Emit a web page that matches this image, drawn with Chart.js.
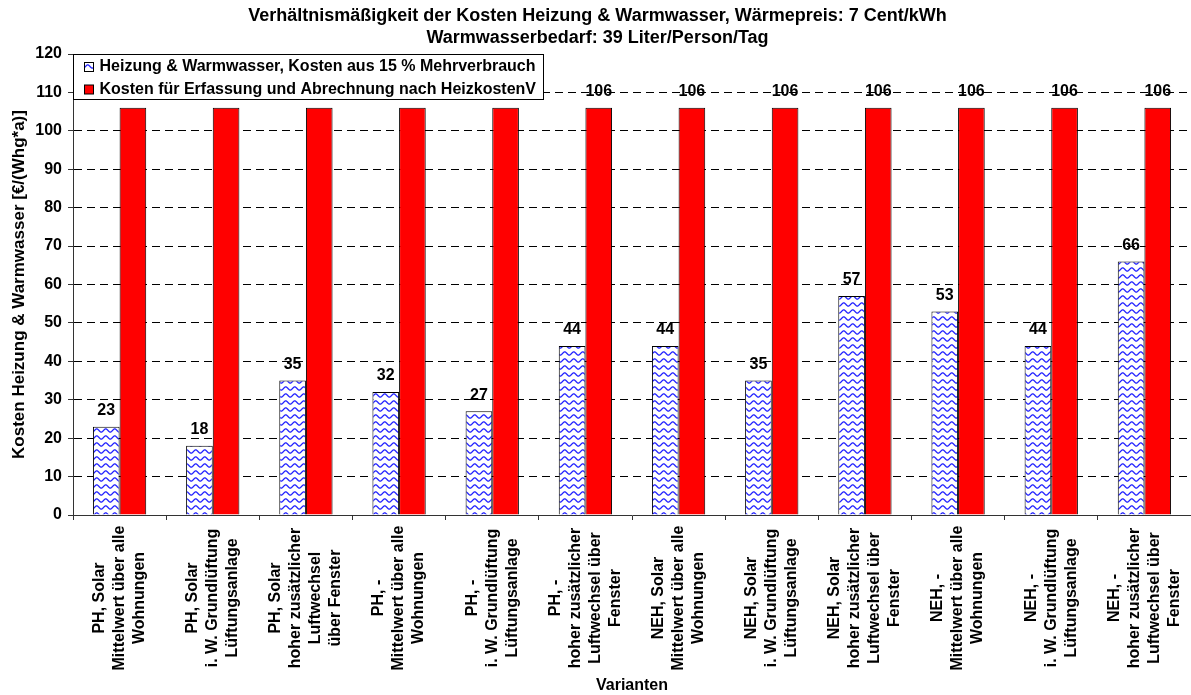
<!DOCTYPE html>
<html lang="de">
<head>
<meta charset="utf-8">
<title>Verhältnismäßigkeit der Kosten Heizung & Warmwasser</title>
<script src="https://cdn.jsdelivr.net/npm/chart.js@4.4.1/dist/chart.umd.min.js"></script>
<style>
  html, body { margin: 0; padding: 0; background: #fff; }
  #wrap { width: 1191px; height: 695px; }
</style>
</head>
<body>
<div id="wrap"><canvas id="chart" width="1191" height="695"></canvas></div>
<script>
// Varianten (each entry is one multi-line category label)
const categories = [
  ["PH, Solar", "Mittelwert über alle", "Wohnungen"],
  ["PH, Solar", "i. W. Grundlüftung", "Lüftungsanlage"],
  ["PH, Solar", "hoher zusätzlicher", "Luftwechsel", "über Fenster"],
  ["PH, -", "Mittelwert über alle", "Wohnungen"],
  ["PH, -", "i. W. Grundlüftung", "Lüftungsanlage"],
  ["PH, -", "hoher zusätzlicher", "Luftwechsel über", "Fenster"],
  ["NEH, Solar", "Mittelwert über alle", "Wohnungen"],
  ["NEH, Solar", "i. W. Grundlüftung", "Lüftungsanlage"],
  ["NEH, Solar", "hoher zusätzlicher", "Luftwechsel über", "Fenster"],
  ["NEH, -", "Mittelwert über alle", "Wohnungen"],
  ["NEH, -", "i. W. Grundlüftung", "Lüftungsanlage"],
  ["NEH, -", "hoher zusätzlicher", "Luftwechsel über", "Fenster"]
];

// Kosten in €/(Whg*a)
const mehrverbrauchKosten = [23, 18, 35, 32, 27, 44, 44, 35, 57, 53, 44, 66];
const erfassungKosten = [106, 106, 106, 106, 106, 106, 106, 106, 106, 106, 106, 106];

const seriesNames = [
  "Heizung & Warmwasser, Kosten aus 15 % Mehrverbrauch",
  "Kosten für Erfassung und Abrechnung nach HeizkostenV"
];

const titleLines = [
  "Verhältnismäßigkeit der Kosten Heizung & Warmwasser, Wärmepreis: 7 Cent/kWh",
  "Warmwasserbedarf: 39 Liter/Person/Tag"
];

const yTicks = { min: 0, max: 120, step: 10 };

const FONT = '"Liberation Sans", Arial, Helvetica, sans-serif';
const FS = 16;

const canvas = document.getElementById('chart');
const ctx = canvas.getContext('2d');

// white tile with a blue wavy line, repeated over the bar
function wavePattern() {
  const w = 9, h = 7;
  const c = document.createElement('canvas');
  c.width = w; c.height = h;
  const g = c.getContext('2d');
  g.fillStyle = '#ffffff';
  g.fillRect(0, 0, w, h);
  g.strokeStyle = '#1f1fff';
  g.lineWidth = 1.2;
  g.beginPath();
  for (let x = -1; x <= w + 1; x += 0.5) {
    const y = 3.5 + 1.6 * Math.sin(2 * Math.PI * x / w);
    if (x === -1) g.moveTo(x, y); else g.lineTo(x, y);
  }
  g.stroke();
  return ctx.createPattern(c, 'repeat');
}
const blueWave = wavePattern();

// value labels above each bar
const valueLabels = {
  id: 'valueLabels',
  afterDatasetsDraw(chart) {
    const c = chart.ctx;
    c.save();
    c.font = 'bold ' + FS + 'px ' + FONT;
    c.fillStyle = '#000';
    c.textAlign = 'center';
    c.textBaseline = 'middle';
    chart.data.datasets.forEach((ds, i) => {
      chart.getDatasetMeta(i).data.forEach((bar, j) => {
        c.fillText(String(ds.data[j]), bar.x, bar.y - 16);
      });
    });
    c.restore();
  }
};

// vertical, centred multi-line category labels
const categoryLabels = {
  id: 'categoryLabels',
  afterDraw(chart) {
    const c = chart.ctx;
    const xs = chart.scales.x;
    const lineGap = 20;
    const centerY = 598;
    c.save();
    c.font = 'bold ' + FS + 'px ' + FONT;
    c.fillStyle = '#000';
    c.textAlign = 'center';
    c.textBaseline = 'middle';
    chart.data.labels.forEach((lines, i) => {
      const x = xs.getPixelForValue(i);
      lines.forEach((line, k) => {
        const off = (k - (lines.length - 1) / 2) * lineGap;
        c.save();
        c.translate(x + off, centerY);
        c.rotate(-Math.PI / 2);
        c.fillText(line, 0, 0);
        c.restore();
      });
    });
    c.restore();
  }
};

// boxed legend in the upper left corner of the plot area
const boxLegend = {
  id: 'boxLegend',
  afterDraw(chart) {
    const c = chart.ctx;
    const area = chart.chartArea;
    c.save();
    c.font = 'bold ' + FS + 'px ' + FONT;
    const texts = chart.data.datasets.map(d => d.label);
    const textW = Math.max(...texts.map(t => c.measureText(t).width));
    const left = Math.round(area.left) + 0.5;
    const top = Math.round(area.top) + 0.5;
    const textX = left + 26;
    const width = Math.round(textX - left + textW + 8);
    const height = 45;
    c.fillStyle = '#fff';
    c.fillRect(left, top, width, height);
    c.strokeStyle = '#000';
    c.lineWidth = 1;
    c.strokeRect(left, top, width, height);
    c.textBaseline = 'middle';
    c.textAlign = 'left';
    chart.data.datasets.forEach((ds, i) => {
      const cy = top + 12.5 + i * 22.5;
      c.fillStyle = ds.backgroundColor;
      c.fillRect(left + 11, cy - 4.5, 9, 9);
      c.strokeStyle = '#000';
      c.strokeRect(left + 11, cy - 4.5, 9, 9);
      c.fillStyle = '#000';
      c.fillText(ds.label, textX, cy);
    });
    c.restore();
  }
};

new Chart(ctx, {
  type: 'bar',
  data: {
    labels: categories,
    datasets: [
      {
        label: seriesNames[0],
        data: mehrverbrauchKosten,
        backgroundColor: blueWave,
        borderColor: '#000',
        borderWidth: 1
      },
      {
        label: seriesNames[1],
        data: erfassungKosten,
        backgroundColor: '#ff0000',
        borderColor: '#000',
        borderWidth: 1
      }
    ]
  },
  options: {
    responsive: false,
    animation: false,
    devicePixelRatio: 1,
    layout: { padding: { left: 0, right: -4, top: 0, bottom: 0 } },
    datasets: {
      bar: { categoryPercentage: 0.572, barPercentage: 1.0 }
    },
    plugins: {
      legend: { display: false },
      tooltip: { enabled: false },
      title: {
        display: true,
        text: titleLines,
        color: '#000',
        font: { family: FONT, size: 18, weight: 'bold', lineHeight: 1.2 },
        padding: { top: 5.2, bottom: 5.6 }
      }
    },
    scales: {
      x: {
        grid: {
          offset: true,
          drawOnChartArea: false,
          tickLength: 5,
          tickColor: '#333'
        },
        border: { color: '#333', width: 1 },
        ticks: { display: false },
        title: {
          display: true,
          text: 'Varianten',
          color: '#000',
          font: { family: FONT, size: FS, weight: 'bold' },
          padding: { top: 0, bottom: 0 }
        },
        afterFit(scale) { scale.height = 180; }
      },
      y: {
        min: yTicks.min,
        max: yTicks.max,
        grid: {
          color: c => (c.tick && c.tick.value === yTicks.max) ? 'rgba(0,0,0,0)' : '#000',
          tickColor: '#333',
          tickLength: 5,
          lineWidth: 1
        },
        border: { color: '#333', width: 1, dash: [8, 5] },
        ticks: {
          stepSize: yTicks.step,
          color: '#000',
          padding: 6,
          font: { family: FONT, size: FS, weight: 'bold' }
        },
        title: {
          display: true,
          text: 'Kosten Heizung & Warmwasser [€/(Whg*a)]',
          color: '#000',
          font: { family: FONT, size: 17, weight: 'bold' },
          padding: { top: 9, bottom: 0 }
        },
        afterFit(scale) { scale.width = 73; }
      }
    }
  },
  plugins: [valueLabels, categoryLabels, boxLegend]
});
</script>
</body>
</html>
